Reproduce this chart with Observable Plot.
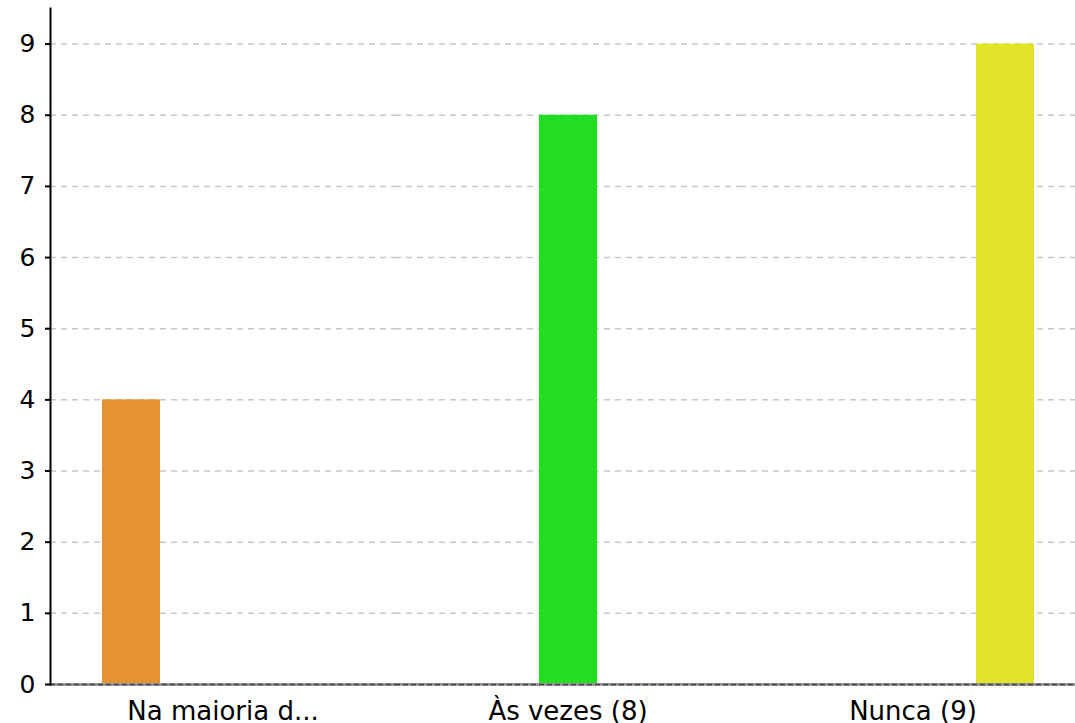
<!DOCTYPE html>
<html><head><meta charset="utf-8">
<script src="https://cdn.jsdelivr.net/npm/d3@7"></script>
<script src="https://cdn.jsdelivr.net/npm/@observablehq/plot@0.6"></script>
<style>html,body{margin:0;padding:0;background:#fff;overflow:hidden} svg{display:block}</style>
</head><body><div id="chart"></div>
<script>
const categories = ["Na maioria d...", "Às vezes (8)", "Nunca (9)"];
const series = ["Na maioria das vezes", "Às vezes", "Nunca"];
const values = [4, 8, 9];
const colors = ["#E59330", "#22DD22", "#E1E428"];
const yTicks = [0, 1, 2, 3, 4, 5, 6, 7, 8, 9];

const data = categories.map((c, i) => ({category: c, series: series[i], value: values[i]}));

const chart = Plot.plot({
  width: 1075, height: 723,
  marginLeft: 50, marginRight: -10, marginTop: 8, marginBottom: 39,
  style: {fontFamily: "DejaVu Sans", fontSize: "26px", background: "white", color: "black"},
  fx: {domain: categories, padding: 0, label: null, axis: null},
  x: {domain: series, paddingInner: 0.37, paddingOuter: 0.56, axis: null},
  y: {domain: [0, 9.5], axis: null},
  color: {domain: series, range: colors},
  marks: [
    Plot.ruleY(yTicks.filter(t => t > 0), {stroke: "#c8c8c8", strokeWidth: 1.5, strokeDasharray: "6,5"}),
    Plot.barY(data, {fx: "category", x: "series", y: "value", fill: "series"}),
    Plot.ruleY([0], {stroke: "#999", strokeWidth: 3}),
    Plot.ruleY([0], {stroke: "#444", strokeWidth: 1.5, strokeDasharray: "5,3"}),
    Plot.frame({anchor: "left", facetAnchor: "left", stroke: "black", strokeWidth: 2}),
    Plot.axisY({ticks: yTicks, tickFormat: d => String(d), anchor: "left", tickSize: 5, tickPadding: 10, strokeWidth: 2, fontSize: 25, label: null}),
    Plot.axisFx({anchor: "bottom", tickSize: 0, tickPadding: 17, fontSize: 26, label: null})
  ]
});
document.getElementById("chart").append(chart);
</script>
</body></html>
